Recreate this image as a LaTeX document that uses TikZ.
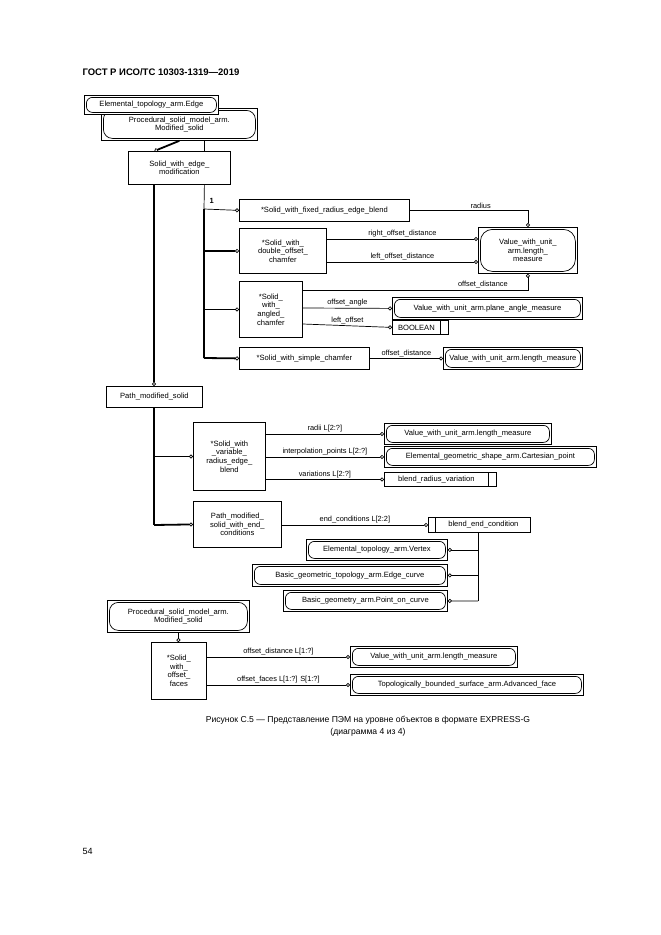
\documentclass[tikz,border=0pt]{standalone}
\usepackage{fontspec}
\setmainfont{Liberation Sans}
\usetikzlibrary{arrows.meta,positioning,calc}
\tikzset{
  box/.style={draw,line width=0.8pt,anchor=north west,inner sep=1pt,align=center,font=\fontsize{7.6}{8.6}\selectfont},
  entref/.style={box,path picture={\draw[line width=0.7pt,rounded corners=#1]
      ([shift={(2pt,-2pt)}]path picture bounding box.north west) rectangle
      ([shift={(-2pt,2pt)}]path picture bounding box.south east);}},
  entref/.default=6pt,
  stype/.style={box,path picture={\draw[line width=0.7pt]
      ([xshift=-8pt]path picture bounding box.north east) --
      ([xshift=-8pt]path picture bounding box.south east);}},
  stypel/.style={box,path picture={\draw[line width=0.7pt]
      ([xshift=7pt]path picture bounding box.north west) --
      ([xshift=7pt]path picture bounding box.south west);}},
  rel/.style={line width=0.7pt,-{Circle[open,length=4pt]}},
  sub/.style={line width=1.8pt},
  subend/.style={line width=1.8pt,-{Circle[open,length=4pt,line width=0.7pt]}},
  lbl/.style={font=\fontsize{7.4}{8}\selectfont,above,inner sep=1.5pt}
}
\begin{document}
\begin{tikzpicture}[x=1pt,y=-1pt]
  \useasboundingbox (0,0) rectangle (661,935);
  \node[anchor=west,font=\bfseries\fontsize{9.5}{11}\selectfont] (title) at (79,72) {ГОСТ Р ИСО/ТС 10303-1319—2019};
  % top part
  \node[entref=9pt,minimum width=156pt,minimum height=32pt] (ms) at (101,108) {Procedural\_solid\_model\_arm.\\Modified\_solid};
  \node[entref,fill=white,minimum width=134pt,minimum height=19pt] (edge) at (84,95) {Elemental\_topology\_arm.Edge};
  \node[box,minimum width=102pt,minimum height=33pt] (swem) at (128,151) {Solid\_with\_edge\_\\modification};
  \draw[subend] (ms.south) -- ([xshift=-25pt]swem.north);
  \draw[line width=0.7pt] ([xshift=25pt]ms.south) -- ([xshift=25pt]swem.north);
  \node[box,minimum width=170pt,minimum height=22pt] (fixed) at (239,199) {*Solid\_with\_fixed\_radius\_edge\_blend};
  \node[box,minimum width=87pt,minimum height=45pt] (dbl) at (239,228) {*Solid\_with\_\\double\_offset\_\\chamfer};
  \node[box,minimum width=63pt,minimum height=56pt] (ang) at (239,281) {*Solid\_\\with\_\\angled\_\\chamfer};
  \node[box,minimum width=130pt,minimum height=22pt] (simple) at (239,347) {*Solid\_with\_simple\_chamfer};
  \node[entref=12pt,minimum width=99pt,minimum height=46pt] (vlm) at (478,227) {Value\_with\_unit\_\\arm.length\_\\measure};
  \node[entref,minimum width=190pt,minimum height=22pt] (pam) at (392,297) {Value\_with\_unit\_arm.plane\_angle\_measure};
  \node[stype,minimum width=56pt,minimum height=14pt] (bool) at (392,320) {BOOLEAN\hspace{8pt}};
  \node[entref,minimum width=139pt,minimum height=22pt] (vlm2) at (443,347) {Value\_with\_unit\_arm.length\_measure};
  % supertype trunk and branches
  \coordinate (t1) at (204,209);
  \coordinate (t2) at (204,358);
  \draw[line width=0.7pt] ([xshift=25pt]swem.south) -- (t1);
  \draw[sub] (t1) -- (t2);
  \node[anchor=south west,font=\bfseries\fontsize{7.5}{8}\selectfont] (one) at (206,207) {1};
  \draw[rel] (t1) -- (fixed.west);
  \draw[subend] (t1 |- dbl.west) -- (dbl.west);
  \draw[subend] (t1 |- ang.west) -- (ang.west);
  \draw[subend] (t2) -- (simple.west);
  % attributes
  \draw[rel] (fixed.east) -| node[lbl,pos=0.3]{radius} (vlm.north);
  \draw[rel] (dbl.east |- 0,239) -- node[lbl]{right\_offset\_distance} (vlm.west |- 0,239);
  \draw[rel] (dbl.east |- 0,262) -- node[lbl]{left\_offset\_distance} (vlm.west |- 0,262);
  \draw[rel] (ang.east |- 0,290) -| node[lbl,pos=0.4]{offset\_distance} (vlm.south);
  \draw[rel] (ang.east |- 0,308) -- node[lbl,pos=0.5]{offset\_angle} (pam.west);
  \draw[rel] (ang.east |- 0,324) -- node[lbl,pos=0.5]{left\_offset} (bool.west);
  \draw[rel] (simple.east) -- node[lbl]{offset\_distance} (vlm2.west);
  % path modified solid
  \node[box,minimum width=96pt,minimum height=21pt] (pms) at (106,386) {Path\_modified\_solid};
  \draw[subend] (swem.south -| 154,0) -- (pms.north -| 154,0);
  \node[box,minimum width=72pt,minimum height=68pt] (var) at (193,422) {*Solid\_with\\\_variable\_\\radius\_edge\_\\blend};
  \node[box,minimum width=88pt,minimum height=46pt] (endc) at (193,501) {Path\_modified\_\\solid\_with\_end\_\\conditions};
  \coordinate (t3) at (154,525);
  \draw[sub] (pms.south -| 154,0) -- (t3);
  \draw[subend] (t3 |- var.west) -- (var.west);
  \draw[subend] (t3) -- (endc.west);
  \node[entref,minimum width=167pt,minimum height=21pt] (vlm3) at (384,423) {Value\_with\_unit\_arm.length\_measure};
  \node[entref,minimum width=212pt,minimum height=21pt] (cart) at (384,446) {Elemental\_geometric\_shape\_arm.Cartesian\_point};
  \node[stype,minimum width=112pt,minimum height=14pt] (brv) at (384,472) {blend\_radius\_variation\hspace{8pt}};
  \draw[rel] (var.east |- vlm3.west) -- node[lbl]{radii L[2:?]} (vlm3.west);
  \draw[rel] (var.east |- cart.west) -- node[lbl]{interpolation\_points L[2:?]} (cart.west);
  \draw[rel] (var.east |- brv.west) -- node[lbl]{variations L[2:?]} (brv.west);
  \node[stypel,minimum width=102pt,minimum height=15pt] (bec) at (428,517) {\hspace{8pt}blend\_end\_condition};
  \draw[rel] (endc.east |- bec.west) -- node[lbl]{end\_conditions L[2:2]} (bec.west);
  \node[entref,minimum width=141pt,minimum height=21pt] (vert) at (306,539) {Elemental\_topology\_arm.Vertex};
  \node[entref,minimum width=195pt,minimum height=22pt] (ecur) at (252,564) {Basic\_geometric\_topology\_arm.Edge\_curve};
  \node[entref,minimum width=164pt,minimum height=21pt] (poc) at (283,590) {Basic\_geometry\_arm.Point\_on\_curve};
  \coordinate (sel) at (478,601);
  \draw[line width=0.7pt] (bec.south -| sel) -- (sel);
  \draw[rel] (sel |- vert.east) -- (vert.east);
  \draw[rel] (sel |- ecur.east) -- (ecur.east);
  \draw[rel] (sel) -- (poc.east);
  % offset faces
  \node[entref=9pt,minimum width=142pt,minimum height=32pt] (ms2) at (107,600) {Procedural\_solid\_model\_arm.\\Modified\_solid};
  \node[box,minimum width=55pt,minimum height=57pt] (off) at (151,642) {*Solid\_\\with\_\\offset\_\\faces};
  \draw[rel] (ms2.south) -- (off.north -| ms2.south);
  \node[entref,minimum width=167pt,minimum height=21pt] (vlm4) at (350,646) {Value\_with\_unit\_arm.length\_measure};
  \node[entref,minimum width=233pt,minimum height=21pt] (adf) at (350,674) {Topologically\_bounded\_surface\_arm.Advanced\_face};
  \draw[rel] (off.east |- vlm4.west) -- node[lbl]{offset\_distance L[1:?]} (vlm4.west);
  \draw[rel] (off.east |- adf.west) -- node[lbl]{offset\_faces L[1:?] S[1:?]} (adf.west);
  % caption
  \node[align=center,font=\fontsize{8.6}{12.5}\selectfont] (cap) at (368,726) {Рисунок С.5 — Представление ПЭМ на уровне объектов в формате EXPRESS-G\\(диаграмма 4 из 4)};
  \node[anchor=west,font=\fontsize{9}{10}\selectfont] (page) at (79,851) {54};
\end{tikzpicture}
\end{document}
